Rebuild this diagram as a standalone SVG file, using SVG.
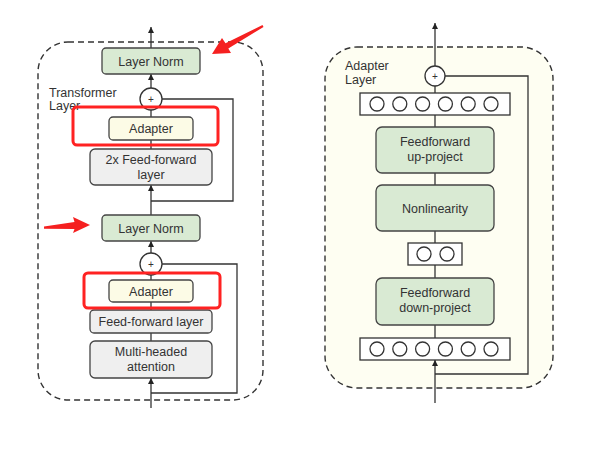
<svg xmlns="http://www.w3.org/2000/svg" width="602" height="458" viewBox="0 0 602 458">
<defs>
<marker id="ah" viewBox="0 0 10 10" refX="10" refY="5" markerWidth="6" markerHeight="7" markerUnits="userSpaceOnUse" orient="auto"><path d="M0,0 L10,5 L0,10 z" fill="#222"/></marker>
<style>
text{font-family:"Liberation Sans",Arial,sans-serif;font-size:12.5px;fill:#333;text-anchor:middle}
.lbl{text-anchor:start}
.green{fill:#d9ead3;stroke:#444;stroke-width:1.3}
.gray{fill:#efefef;stroke:#444;stroke-width:1.3}
.cream{fill:#fcfbe6;stroke:#444;stroke-width:1.3}
.vec{fill:#fff;stroke:#333;stroke-width:1.3}
.dot{fill:#fff;stroke:#333;stroke-width:1.3}
.red{fill:none;stroke:#f22;stroke-width:3}
.dash{stroke:#333;stroke-width:1.4;stroke-dasharray:6 4}
.c{fill:none;stroke:#333;stroke-width:1.3}
.plus{fill:#fff;stroke:#333;stroke-width:1.3}
.ra{fill:#f52020}
</style>
</defs>
<rect width="602" height="458" fill="#fff"/>

<g id="transformer-layer">
<rect x="38" y="42" width="225" height="358" rx="30" fill="none" class="dash"/>
<text class="lbl" x="49" y="97">Transformer</text>
<text class="lbl" x="49" y="110">Layer</text>
</g>
<g id="adapter-layer">
<rect x="325" y="47" width="228" height="341" rx="32" fill="#fefef2" class="dash"/>
<text class="lbl" x="345" y="70">Adapter</text>
<text class="lbl" x="345" y="84">Layer</text>
</g>

<g id="connectors">
<line class="c" x1="151" y1="48" x2="151" y2="27" marker-end="url(#ah)"/>
<line class="c" x1="151" y1="88" x2="151" y2="74" marker-end="url(#ah)"/>
<line class="c" x1="151" y1="117" x2="151" y2="110"/>
<line class="c" x1="151" y1="149" x2="151" y2="140"/>
<line class="c" x1="151" y1="215" x2="151" y2="185" marker-end="url(#ah)"/>
<line class="c" x1="151" y1="253" x2="151" y2="241" marker-end="url(#ah)"/>
<line class="c" x1="151" y1="280" x2="151" y2="275"/>
<line class="c" x1="151" y1="310" x2="151" y2="302"/>
<line class="c" x1="151" y1="341" x2="151" y2="333"/>
<line class="c" x1="151" y1="408" x2="151" y2="378" marker-end="url(#ah)"/>
<polyline class="c" points="162,99 233,99 233,201 151,201"/>
<polyline class="c" points="162,264 237,264 237,393 151,393"/>
<line class="c" x1="435" y1="66" x2="435" y2="23" marker-end="url(#ah)"/>
<line class="c" x1="435" y1="93" x2="435" y2="86"/>
<line class="c" x1="435" y1="127" x2="435" y2="115"/>
<line class="c" x1="435" y1="185" x2="435" y2="173"/>
<line class="c" x1="435" y1="243" x2="435" y2="231"/>
<line class="c" x1="435" y1="278" x2="435" y2="265"/>
<line class="c" x1="435" y1="338" x2="435" y2="325"/>
<line class="c" x1="435" y1="403" x2="435" y2="360" marker-end="url(#ah)"/>
<polyline class="c" points="445,76 528,76 528,374 435,374"/>
</g>

<g id="layer-norm-top"><rect class="green" x="102" y="48" width="98" height="26" rx="4"/><text x="151" y="65.5">Layer Norm</text></g>
<g id="plus-top"><circle class="plus" cx="151" cy="99" r="11"/><text x="151" y="103" style="font-size:10px">+</text></g>
<g id="adapter-top"><rect class="cream" x="109" y="117" width="84" height="23" rx="4"/><text x="151" y="133">Adapter</text></g>
<g id="ff2x"><rect class="gray" x="90" y="149" width="122" height="36" rx="5"/><text x="151" y="164">2x Feed-forward</text><text x="151" y="179">layer</text></g>
<g id="layer-norm-bottom"><rect class="green" x="102" y="215" width="98" height="26" rx="4"/><text x="151" y="232.5">Layer Norm</text></g>
<g id="plus-bottom"><circle class="plus" cx="151" cy="264" r="11"/><text x="151" y="268" style="font-size:10px">+</text></g>
<g id="adapter-bottom"><rect class="cream" x="109" y="280" width="84" height="22" rx="4"/><text x="151" y="295.5">Adapter</text></g>
<g id="ff"><rect class="gray" x="90" y="310" width="122" height="23" rx="4"/><text x="151" y="326">Feed-forward layer</text></g>
<g id="mha"><rect class="gray" x="90" y="341" width="122" height="37" rx="5"/><text x="151" y="356">Multi-headed</text><text x="151" y="371">attention</text></g>

<g id="highlight-top"><rect class="red" x="73" y="107" width="145" height="38" rx="4"/></g>
<g id="highlight-bottom"><rect class="red" x="84" y="273" width="136" height="35" rx="4"/></g>
<g id="red-arrow-top"><polygon class="ra" points="212,54 231,53 228.3,48.4 263.5,26.9 262.5,25.1 225.5,43.2 222,38"/></g>
<g id="red-arrow-left"><polygon class="ra" points="90,225 73,233 74.5,229 44,228.8 44,226.6 74.5,222 73,217"/></g>

<g id="plus-adapter"><circle class="plus" cx="435" cy="76" r="10"/><text x="435" y="80" style="font-size:10px">+</text></g>
<g id="vec-top"><rect class="vec" x="360" y="93" width="150" height="22"/>
<circle class="dot" cx="377" cy="104" r="7"/><circle class="dot" cx="399.8" cy="104" r="7"/><circle class="dot" cx="422.6" cy="104" r="7"/><circle class="dot" cx="445.4" cy="104" r="7"/><circle class="dot" cx="468.2" cy="104" r="7"/><circle class="dot" cx="491" cy="104" r="7"/></g>
<g id="up-project"><rect class="green" x="376" y="127" width="118" height="46" rx="6"/><text x="435" y="146">Feedforward</text><text x="435" y="161">up-project</text></g>
<g id="nonlinearity"><rect class="green" x="376" y="185" width="118" height="46" rx="6"/><text x="435" y="212.5">Nonlinearity</text></g>
<g id="vec-mid"><rect class="vec" x="408" y="243" width="54" height="22"/><circle class="dot" cx="424" cy="254" r="7"/><circle class="dot" cx="447" cy="254" r="7"/></g>
<g id="down-project"><rect class="green" x="376" y="278" width="118" height="47" rx="6"/><text x="435" y="297">Feedforward</text><text x="435" y="312">down-project</text></g>
<g id="vec-bottom"><rect class="vec" x="360" y="338" width="150" height="22"/>
<circle class="dot" cx="377" cy="349" r="7"/><circle class="dot" cx="399.8" cy="349" r="7"/><circle class="dot" cx="422.6" cy="349" r="7"/><circle class="dot" cx="445.4" cy="349" r="7"/><circle class="dot" cx="468.2" cy="349" r="7"/><circle class="dot" cx="491" cy="349" r="7"/></g>
</svg>
